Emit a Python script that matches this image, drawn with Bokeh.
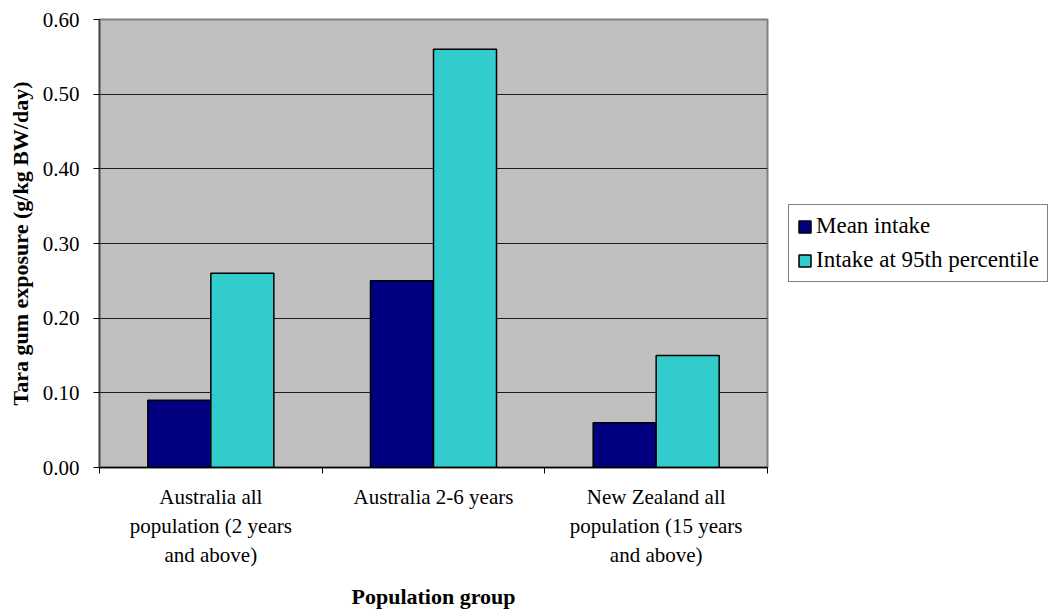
from bokeh.plotting import figure
from bokeh.models import FixedTicker, Legend, LegendItem, ColumnDataSource, NumeralTickFormatter
from bokeh.embed import file_html
from bokeh.resources import INLINE

categories = ["Australia all\npopulation (2 years\nand above)",
              "Australia 2-6 years",
              "New Zealand all\npopulation (15 years\nand above)"]
mean_intake = [0.09, 0.25, 0.06]
p95_intake = [0.26, 0.56, 0.15]
series_names = ["Mean intake", "Intake at 95th percentile"]
y_ticks = [0.0, 0.1, 0.2, 0.3, 0.4, 0.5, 0.6]

FONT = "'Liberation Serif', 'DejaVu Serif', serif"
idx = list(range(len(categories)))
centers = [i + 0.5 for i in idx]
bar_w = 0.283

src = ColumnDataSource(dict(
    xm=[c - bar_w / 2 for c in centers],
    xp=[c + bar_w / 2 for c in centers],
    mean=mean_intake, p95=p95_intake))

p = figure(frame_width=668, frame_height=448, x_range=(0, 3), y_range=(0, 0.6),
           output_backend="svg", toolbar_location=None,
           min_border_left=99, min_border_right=273, min_border_top=19, min_border_bottom=130)
p.background_fill_color = "#C0C0C0"
p.border_fill_color = "white"
p.outline_line_color = "#808080"
p.outline_line_width = 2

r1 = p.vbar(x="xm", top="mean", width=bar_w, source=src, fill_color="#000080",
            line_color="black", line_width=1.5)
r2 = p.vbar(x="xp", top="p95", width=bar_w, source=src, fill_color="#33CCCC",
            line_color="black", line_width=1.5)

# x axis
p.xaxis.ticker = FixedTicker(ticks=centers, minor_ticks=[0, 1, 2, 3])
p.xaxis.major_label_overrides = {c: lab for c, lab in zip(centers, categories)}
p.xaxis.major_tick_line_color = None
p.xaxis.major_tick_out = 0
p.xaxis.major_tick_in = 0
p.xaxis.minor_tick_out = 6
p.xaxis.minor_tick_in = 0
p.xaxis.minor_tick_line_color = "black"
p.xaxis.axis_line_color = "black"
p.xaxis.axis_line_width = 1.5
p.xaxis.major_label_text_font = FONT
p.xaxis.major_label_text_font_size = "21px"
p.xaxis.major_label_text_color = "black"
p.xaxis.major_label_text_line_height = 1.22
p.xaxis.major_label_standoff = 11
p.xaxis.axis_label = "Population group"
p.xaxis.axis_label_text_font = FONT
p.xaxis.axis_label_text_font_size = "22px"
p.xaxis.axis_label_text_font_style = "bold"
p.xaxis.axis_label_text_color = "black"
p.xaxis.axis_label_standoff = 14

# y axis
p.yaxis.ticker = FixedTicker(ticks=y_ticks, minor_ticks=[])
p.yaxis.formatter = NumeralTickFormatter(format="0.00")
p.yaxis.major_tick_out = 6
p.yaxis.major_tick_in = 0
p.yaxis.major_tick_line_color = "black"
p.yaxis.axis_line_color = "#404040"
p.yaxis.axis_line_width = 1.5
p.yaxis.major_label_text_font = FONT
p.yaxis.major_label_text_font_size = "21px"
p.yaxis.major_label_text_color = "black"
p.yaxis.major_label_standoff = 14
p.yaxis.axis_label = "Tara gum exposure (g/kg BW/day)"
p.yaxis.axis_label_text_font = FONT
p.yaxis.axis_label_text_font_size = "22px"
p.yaxis.axis_label_text_font_style = "bold"
p.yaxis.axis_label_text_color = "black"
p.yaxis.axis_label_standoff = 7

p.xgrid.grid_line_color = None
p.ygrid.grid_line_color = "black"
p.ygrid.grid_line_width = 1
p.ygrid.grid_line_alpha = 0.85

legend = Legend(items=[LegendItem(label=series_names[0], renderers=[r1]),
                       LegendItem(label=series_names[1], renderers=[r2])],
                location=(21, 185))
legend.label_text_font = FONT
legend.label_text_font_size = "23px"
legend.label_text_color = "black"
legend.border_line_color = "black"
legend.border_line_width = 1
legend.background_fill_color = "white"
legend.background_fill_alpha = 1
legend.glyph_width = 15
legend.glyph_height = 15
legend.label_standoff = 4
legend.spacing = 8
legend.padding = 8
legend.margin = 0
p.add_layout(legend, "right")

open("out.html", "w").write(file_html(p, INLINE))
